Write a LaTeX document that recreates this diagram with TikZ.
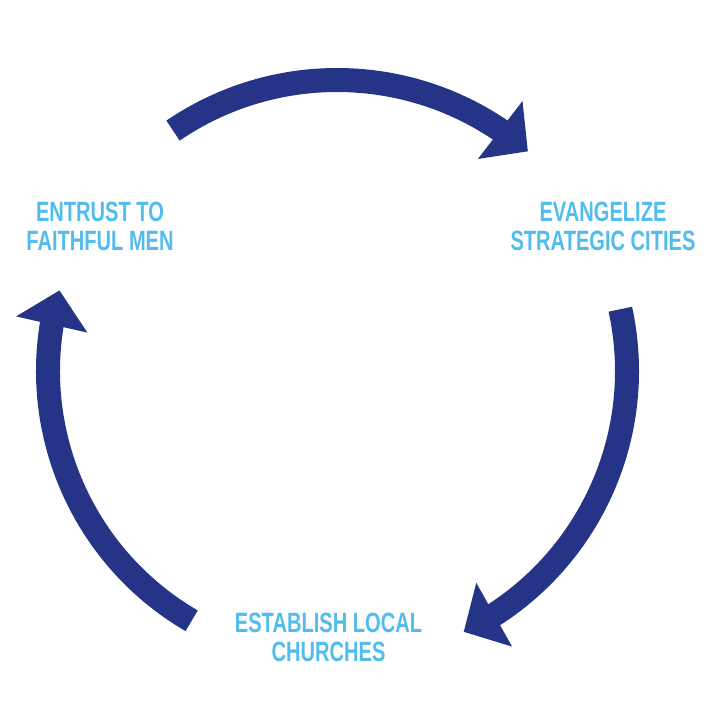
\documentclass[tikz,border=0pt]{standalone}
\usepackage{fontspec}
\setmainfont{Liberation Sans}[FakeStretch=0.72]
\usetikzlibrary{arrows.meta,bending}
\definecolor{arrowblue}{RGB}{38,52,136}
\definecolor{labelblue}{RGB}{82,189,236}
\tikzset{
  cyclearrow/.style={draw=arrowblue, line width=24pt,
    -{Triangle[length=35pt,width=71pt,flex]}},
  cyclelabel/.style={text=labelblue, align=center, inner sep=0pt, anchor=north,
    font=\bfseries\fontsize{27.9}{29}\selectfont}
}
\begin{document}
\begin{tikzpicture}[x=1pt,y=1pt]
\useasboundingbox (0,0) rectangle (720,720);
\fill[white] (0,0) rectangle (720,720);
\coordinate (C) at (337,349);
% labels
\node[cyclelabel] (entrust) at (100,518.3) {ENTRUST TO\\FAITHFUL MEN};
\node[cyclelabel] (evang) at (603,518.3) {EVANGELIZE\\STRATEGIC CITIES};
\node[cyclelabel] (establish) at (328.5,107) {ESTABLISH LOCAL\\CHURCHES};
% arcs
\draw[cyclearrow] (C) ++(124.3:291) arc[start angle=124.3, end angle=49, radius=291];
\draw[cyclearrow] (C) ++(12.3:290) arc[start angle=12.3, end angle=-64.1, radius=290];
\draw[cyclearrow] (C) ++(239.8:289) arc[start angle=239.8, end angle=163.8, radius=289];
\end{tikzpicture}
\end{document}
